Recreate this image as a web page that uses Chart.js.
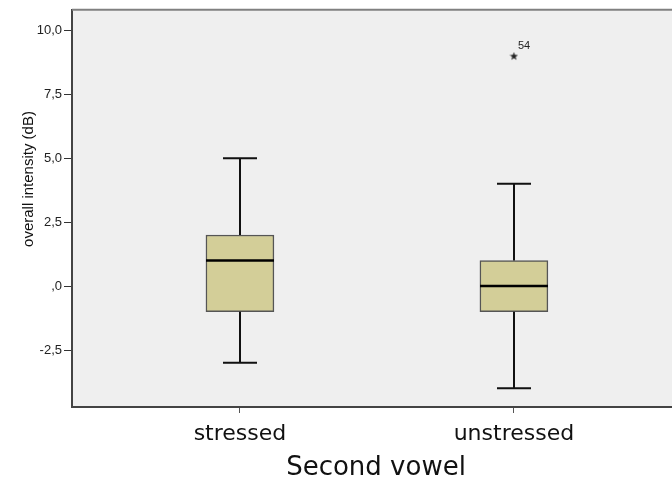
<!DOCTYPE html>
<html>
<head>
<meta charset="utf-8">
<script src="https://cdn.jsdelivr.net/npm/chart.js@4.4.1/dist/chart.umd.min.js"></script>
<style>
  html, body { margin: 0; padding: 0; background: #fff; }
  #wrap { width: 672px; height: 485px; }
</style>
</head>
<body>
<div id="wrap"><canvas id="chart"></canvas></div>
<script>
// data
const groups = ['stressed', 'unstressed'];
const whiskerLow = [-3, -4];
const q1 = [-1, -1];
const medians = [1, 0];
const q3 = [2, 1];
const whiskerHigh = [5, 4];

const outlierGroup = [2];
const outlierValues = [9];
const outlierIds = ['54'];

const yTicks = [-2.5, 0, 2.5, 5, 7.5, 10];
const yTickLabels = ['-2,5', ',0', '2,5', '5,0', '7,5', '10,0'];

const yTitle = 'overall intensity (dB)';
const xTitle = 'Second vowel';

// filled star for extreme values (SPSS style)
const starImg = document.createElement('canvas');
starImg.width = 9;
starImg.height = 9;
(() => {
  const c = starImg.getContext('2d');
  c.fillStyle = '#222';
  c.beginPath();
  for (let k = 0; k < 10; k++) {
    const r = k % 2 === 0 ? 4.4 : 1.8;
    const a = -Math.PI / 2 + k * Math.PI / 5;
    const px = 4.5 + r * Math.cos(a), py = 4.8 + r * Math.sin(a);
    if (k === 0) c.moveTo(px, py); else c.lineTo(px, py);
  }
  c.closePath();
  c.fill();
})();

const BOX_W = 68;
const CAP_W = 34;

const boxExtras = {
  id: 'boxExtras',
  beforeDraw(chart) {
    const { ctx, chartArea: a } = chart;
    ctx.save();
    ctx.fillStyle = '#efefef';
    ctx.fillRect(a.left, a.top, a.right - a.left, a.bottom - a.top);
    ctx.restore();
  },
  afterDatasetsDraw(chart) {
    const { ctx, scales: { x, y } } = chart;
    ctx.save();
    ctx.strokeStyle = '#111';
    ctx.lineWidth = 2;
    groups.forEach((g, i) => {
      const cx = Math.round(x.getPixelForValue(i + 1));
      const yHi = y.getPixelForValue(whiskerHigh[i]);
      const yLo = y.getPixelForValue(whiskerLow[i]);
      const yQ1 = y.getPixelForValue(q1[i]);
      const yQ3 = y.getPixelForValue(q3[i]);
      ctx.beginPath();
      ctx.moveTo(cx, yQ3); ctx.lineTo(cx, yHi);
      ctx.moveTo(cx - CAP_W / 2, yHi); ctx.lineTo(cx + CAP_W / 2, yHi);
      ctx.moveTo(cx, yQ1); ctx.lineTo(cx, yLo);
      ctx.moveTo(cx - CAP_W / 2, yLo); ctx.lineTo(cx + CAP_W / 2, yLo);
      ctx.stroke();
      // median
      const yM = y.getPixelForValue(medians[i]);
      ctx.beginPath();
      ctx.lineWidth = 2.5;
      ctx.strokeStyle = '#000';
      ctx.moveTo(cx - BOX_W / 2, yM); ctx.lineTo(cx + BOX_W / 2, yM);
      ctx.stroke();
      ctx.lineWidth = 2;
      ctx.strokeStyle = '#111';
    });
    // outlier case numbers
    ctx.fillStyle = '#222';
    ctx.font = '11px "Liberation Sans", Arial, sans-serif';
    ctx.textAlign = 'left';
    ctx.textBaseline = 'alphabetic';
    outlierValues.forEach((v, i) => {
      const px = x.getPixelForValue(outlierGroup[i]);
      const py = y.getPixelForValue(v);
      ctx.fillText(outlierIds[i], px + 4, py - 7);
    });
    ctx.restore();
  },
  afterDraw(chart) {
    const { ctx, chartArea: a } = chart;
    ctx.save();
    // top frame line
    ctx.strokeStyle = '#808080';
    ctx.lineWidth = 2;
    ctx.beginPath();
    ctx.moveTo(a.left, a.top);
    ctx.lineTo(a.right, a.top);
    ctx.stroke();
    // axis titles
    ctx.fillStyle = '#111';
    ctx.font = '15px "Liberation Sans", Arial, sans-serif';
    ctx.textAlign = 'center';
    ctx.textBaseline = 'alphabetic';
    ctx.translate(33, 179);
    ctx.rotate(-Math.PI / 2);
    ctx.fillText(yTitle, 0, 0);
    ctx.setTransform(1, 0, 0, 1, 0, 0);
    ctx.font = '26px "DejaVu Sans", sans-serif';
    ctx.fillText(xTitle, 376, 475);
    ctx.restore();
  }
};

new Chart(document.getElementById('chart'), {
  type: 'bar',
  data: {
    datasets: [
      {
        label: 'box',
        data: groups.map((g, i) => ({ x: i + 1, y: [q1[i], q3[i]] })),
        backgroundColor: '#d3ce98',
        borderColor: '#555',
        borderWidth: 1.5,
        borderSkipped: false,
        barThickness: BOX_W
      },
      {
        type: 'scatter',
        label: 'extremes',
        data: outlierValues.map((v, i) => ({ x: outlierGroup[i], y: v })),
        pointStyle: starImg,
        pointRadius: 4
      }
    ]
  },
  options: {
    responsive: true,
    maintainAspectRatio: false,
    animation: false,
    layout: { autoPadding: false, padding: { top: 8, right: 0, left: 0, bottom: 0 } },
    plugins: {
      legend: { display: false },
      tooltip: { enabled: false }
    },
    scales: {
      x: {
        type: 'linear',
        offset: false,
        min: 0.387,
        max: 2.577,
        afterBuildTicks: (scale) => { scale.ticks = groups.map((g, i) => ({ value: i + 1 })); },
        afterFit: (scale) => { scale.height = 78; },
        ticks: {
          callback: (v, i) => groups[i],
          font: { family: '"DejaVu Sans", sans-serif', size: 22 },
          color: '#111',
          padding: 8,
          maxRotation: 0
        },
        grid: { offset: false, drawOnChartArea: false, tickLength: 6, color: '#555' },
        border: { color: '#444', width: 2 }
      },
      y: {
        min: -4.73,
        max: 10.81,
        afterBuildTicks: (scale) => { scale.ticks = yTicks.map(v => ({ value: v })); },
        afterFit: (scale) => { scale.width = 72; },
        ticks: {
          callback: (v, i) => yTickLabels[i],
          font: { family: '"Liberation Sans", Arial, sans-serif', size: 13 },
          color: '#222',
          padding: 2
        },
        grid: { drawOnChartArea: false, tickLength: 8, color: '#333' },
        border: { color: '#444', width: 2 }
      }
    }
  },
  plugins: [boxExtras]
});
</script>
</body>
</html>
